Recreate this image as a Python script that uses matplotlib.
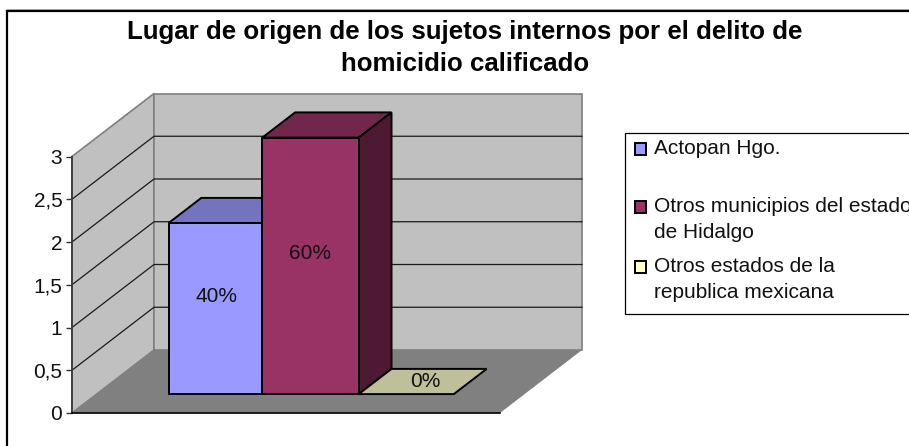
import matplotlib
matplotlib.use('Agg')
import matplotlib.pyplot as plt
from matplotlib.patches import Polygon, Rectangle

plt.rcParams['font.family'] = ['Liberation Sans', 'DejaVu Sans']

# datos
series = ['Actopan Hgo.', 'Otros municipios del estado\nde Hidalgo', 'Otros estados de la\nrepublica mexicana']
values = [2, 3, 0]
pct_labels = ['40%', '60%', '0%']
y_ticks = [0, 0.5, 1, 1.5, 2, 2.5, 3]
y_tick_labels = ['0', '0,5', '1', '1,5', '2', '2,5', '3']
title = 'Lugar de origen de los sujetos internos por el delito de\nhomicidio calificado'

front_colors = ['#9999FF', '#993366', '#FFFFCC']
top_colors = ['#7373BF', '#73264C', '#BFBF99']
side_colors = ['#4D4D80', '#4D1933', '#80806A']

W, H = 909, 446
fig = plt.figure(figsize=(W / 100, H / 100), dpi=100)

# marco del grafico (se sale por la derecha y por abajo)
fig.add_artist(plt.Line2D([7.5 / W, 7.5 / W], [0, 1 - 10.5 / H], color='black', lw=1.6))
fig.add_artist(plt.Line2D([7.5 / W, 1], [1 - 10.5 / H, 1 - 10.5 / H], color='black', lw=1.6))
fig.add_artist(plt.Line2D([7.5 / W, 1], [1 - 9 / H, 1 - 9 / H], color='#999999', lw=0.6))

ax = fig.add_axes([72 / W, (H - 413) / H, 428 / W, 256.5 / H])
ax.set_xlim(0, 1)
ax.set_ylim(0, 3)
for s in ax.spines.values():
    s.set_visible(False)
ax.patch.set_visible(False)
ax.set_xticks([])
ax.set_yticks(y_ticks)
ax.set_yticklabels(y_tick_labels, fontsize=15, color='#111111')
ax.tick_params(axis='y', length=4, width=1, color='#333333', pad=3)

# desplazamiento de profundidad del 3D falso
DX = 82 / 428
DY = 63 / 85.5


def p(x, y, d):
    return (x + d * DX, y + d * DY)


def poly(pts, fc, ec='black', lw=1.4, z=2):
    ax.add_patch(Polygon(pts, closed=True, facecolor=fc, edgecolor=ec, lw=lw, zorder=z,
                         clip_on=False, joinstyle='miter'))


# paredes y piso
ymax = y_ticks[-1]
poly([p(0, 0, 0), p(0, 0, 1), p(0, ymax, 1), p(0, ymax, 0)], '#C0C0C0', '#808080', 1.2, 1)
poly([p(0, 0, 1), p(1, 0, 1), p(1, ymax, 1), p(0, ymax, 1)], '#C0C0C0', '#808080', 1.2, 1)
poly([p(0, 0, 0), p(1, 0, 0), p(1, 0, 1), p(0, 0, 1)], '#808080', 'none', 0, 1.2)

for t in y_ticks[1:-1]:
    a, b, c = p(0, t, 0), p(0, t, 1), p(1, t, 1)
    ax.plot([a[0], b[0], c[0]], [a[1], b[1], c[1]], color='#1a1a1a', lw=0.9, zorder=1.5, clip_on=False)
ax.plot([0, 0], [0, ymax], color='#404040', lw=1.4, zorder=5, clip_on=False)
ax.plot([0, 1], [0, 0], color='black', lw=1.2, zorder=5, clip_on=False)

# barras
bar_w = 0.2222
bar_x = [0.168, 0.168 + bar_w - 0.003, 0.168 + 2 * bar_w]
bar_wd = [bar_w - 0.003, bar_w + 0.003, bar_w]
d0, d1 = 0.3, 0.7

for i in [2, 0, 1]:
    x, v, w = bar_x[i], values[i], bar_wd[i]
    poly([p(x, v, d0), p(x + w, v, d0), p(x + w, v, d1), p(x, v, d1)], top_colors[i], z=3 + i)
    if v > 0:
        poly([p(x + w, 0, d0), p(x + w, 0, d1), p(x + w, v, d1), p(x + w, v, d0)],
             side_colors[i], z=3 + i)
        poly([p(x, 0, d0), p(x + w, 0, d0), p(x + w, v, d0), p(x, v, d0)], front_colors[i], z=3 + i)

# etiquetas a media profundidad en y
dm = (d0 + d1) / 2
for i in range(3):
    x, v = bar_x[i], values[i]
    if v > 0:
        tx = p(x + bar_w / 2, 0, d0)[0]
    else:
        tx = p(x + bar_w / 2, 0, dm)[0] + 0.006
    ty = p(0, v / 2, dm)[1]
    ax.text(tx, ty, pct_labels[i], ha='center', va='center', fontsize=15, color='#111111', zorder=10)

# titulo
fig.text(465 / W, 1 - 48 / H, title, ha='center', va='center', fontsize=18.6, fontweight='bold',
         color='black', linespacing=1.44)

# leyenda
fig.add_artist(Rectangle((624.5 / W, 1 - 314 / H), 300 / W, 181 / H, transform=fig.transFigure,
                         facecolor='white', edgecolor='black', lw=0.9))
legend_y = [148, 206, 266]
for name, col, ly in zip(series, front_colors, legend_y):
    fig.add_artist(Rectangle((634.5 / W, 1 - (ly + 7) / H), 11.5 / W, 12 / H, transform=fig.transFigure,
                             facecolor=col, edgecolor='black', lw=1.4))
    for j, line in enumerate(name.split('\n')):
        fig.text(654 / W, 1 - (ly + 27 * j) / H, line, ha='left', va='center', fontsize=15, color='#111111')

fig.savefig('out.png', dpi=100)
